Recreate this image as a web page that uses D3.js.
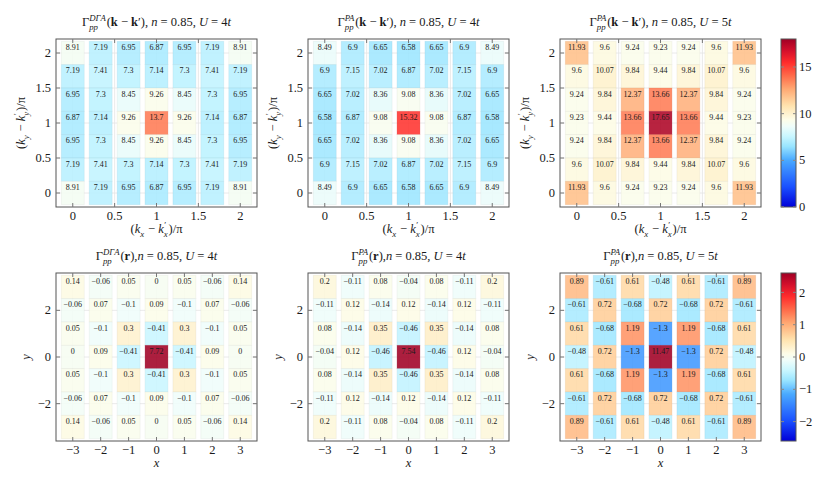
<!DOCTYPE html>
<html>
<head>
<meta charset="utf-8">
<script src="https://d3js.org/d3.v7.min.js"></script>
<style>
  body { margin: 0; background: #fff; }
</style>
</head>
<body>
<script>
// ---- data (rows listed from top of the panel to the bottom) ----
var kPos = [0, 1/3, 2/3, 1, 4/3, 5/3, 2];
var rPos = [-3, -2, -1, 0, 1, 2, 3];
var kTicks = [0, 0.5, 1, 1.5, 2];
var rTicksX = [-3, -2, -1, 0, 1, 2, 3];
var rTicksY = [-2, 0, 2];
var kBarTicks = [0, 5, 10, 15];
var rBarTicks = [-2, -1, 0, 1, 2];

var gammaDGA_k = [
  [8.91, 7.19, 6.95, 6.87, 6.95, 7.19, 8.91],
  [7.19, 7.41, 7.3, 7.14, 7.3, 7.41, 7.19],
  [6.95, 7.3, 8.45, 9.26, 8.45, 7.3, 6.95],
  [6.87, 7.14, 9.26, 13.7, 9.26, 7.14, 6.87],
  [6.95, 7.3, 8.45, 9.26, 8.45, 7.3, 6.95],
  [7.19, 7.41, 7.3, 7.14, 7.3, 7.41, 7.19],
  [8.91, 7.19, 6.95, 6.87, 6.95, 7.19, 8.91]
];
var gammaPA4_k = [
  [8.49, 6.9, 6.65, 6.58, 6.65, 6.9, 8.49],
  [6.9, 7.15, 7.02, 6.87, 7.02, 7.15, 6.9],
  [6.65, 7.02, 8.36, 9.08, 8.36, 7.02, 6.65],
  [6.58, 6.87, 9.08, 15.32, 9.08, 6.87, 6.58],
  [6.65, 7.02, 8.36, 9.08, 8.36, 7.02, 6.65],
  [6.9, 7.15, 7.02, 6.87, 7.02, 7.15, 6.9],
  [8.49, 6.9, 6.65, 6.58, 6.65, 6.9, 8.49]
];
var gammaPA5_k = [
  [11.93, 9.6, 9.24, 9.23, 9.24, 9.6, 11.93],
  [9.6, 10.07, 9.84, 9.44, 9.84, 10.07, 9.6],
  [9.24, 9.84, 12.37, 13.66, 12.37, 9.84, 9.24],
  [9.23, 9.44, 13.66, 17.65, 13.66, 9.44, 9.23],
  [9.24, 9.84, 12.37, 13.66, 12.37, 9.84, 9.24],
  [9.6, 10.07, 9.84, 9.44, 9.84, 10.07, 9.6],
  [11.93, 9.6, 9.24, 9.23, 9.24, 9.6, 11.93]
];
var gammaDGA_r = [
  [0.14, -0.06, 0.05, 0, 0.05, -0.06, 0.14],
  [-0.06, 0.07, -0.1, 0.09, -0.1, 0.07, -0.06],
  [0.05, -0.1, 0.3, -0.41, 0.3, -0.1, 0.05],
  [0, 0.09, -0.41, 7.72, -0.41, 0.09, 0],
  [0.05, -0.1, 0.3, -0.41, 0.3, -0.1, 0.05],
  [-0.06, 0.07, -0.1, 0.09, -0.1, 0.07, -0.06],
  [0.14, -0.06, 0.05, 0, 0.05, -0.06, 0.14]
];
var gammaPA4_r = [
  [0.2, -0.11, 0.08, -0.04, 0.08, -0.11, 0.2],
  [-0.11, 0.12, -0.14, 0.12, -0.14, 0.12, -0.11],
  [0.08, -0.14, 0.35, -0.46, 0.35, -0.14, 0.08],
  [-0.04, 0.12, -0.46, 7.54, -0.46, 0.12, -0.04],
  [0.08, -0.14, 0.35, -0.46, 0.35, -0.14, 0.08],
  [-0.11, 0.12, -0.14, 0.12, -0.14, 0.12, -0.11],
  [0.2, -0.11, 0.08, -0.04, 0.08, -0.11, 0.2]
];
var gammaPA5_r = [
  [0.89, -0.61, 0.61, -0.48, 0.61, -0.61, 0.89],
  [-0.61, 0.72, -0.68, 0.72, -0.68, 0.72, -0.61],
  [0.61, -0.68, 1.19, -1.3, 1.19, -0.68, 0.61],
  [-0.48, 0.72, -1.3, 11.47, -1.3, 0.72, -0.48],
  [0.61, -0.68, 1.19, -1.3, 1.19, -0.68, 0.61],
  [-0.61, 0.72, -0.68, 0.72, -0.68, 0.72, -0.61],
  [0.89, -0.61, 0.61, -0.48, 0.61, -0.61, 0.89]
];

// colormap (blue - white - red)
var cmapStops = [0, 0.12, 0.28, 0.36, 0.42, 0.48, 0.52, 0.6, 0.7, 0.78, 0.86, 0.93, 1];
var cmapColors = ["#0000d8", "#1a50ff", "#4aaaff", "#98e4ff", "#c8f6ff", "#effdfa", "#fdfde8",
                  "#ffe4b0", "#ffaa74", "#ff6c4a", "#ff2c2c", "#d4102c", "#a00024"];
var cmap = d3.scaleLinear().domain(cmapStops).range(cmapColors).clamp(true);

var W = 830, H = 481;
var boxW = 201, boxH = 168;
var lefts = [56, 308, 560];
var tops = [39, 273];
var serif = '"Liberation Serif", "DejaVu Serif", "Times New Roman", serif';

var svg = d3.select("body").append("svg")
  .attr("width", W).attr("height", H)
  .style("font-family", serif);

function fmt(v) { return v < 0 ? "\u2212" + Math.abs(v) : String(v); }

function txt(parent) {
  return parent.append("text").style("font-family", serif).attr("fill", "#1a1a1a");
}

// rich text: sequence of segments, scripts stacked
function rich(parent, segs, size) {
  var g = parent.append("g");
  var x = 0;
  segs.forEach(function(s) {
    if (s.sub !== undefined || s.sup !== undefined) {
      var w = 0;
      if (s.sup) {
        var t = txt(g).attr("x", x).attr("y", -size * 0.4)
          .style("font-size", (size * 0.7) + "px").style("font-style", "italic").text(s.sup);
        w = Math.max(w, t.node().getComputedTextLength());
      }
      if (s.sub) {
        var t2 = txt(g).attr("x", x).attr("y", size * 0.28)
          .style("font-size", (size * 0.7) + "px").style("font-style", "italic").text(s.sub);
        w = Math.max(w, t2.node().getComputedTextLength());
      }
      x += w + 0.8;
    } else {
      var t3 = txt(g).attr("x", x).attr("y", 0)
        .style("font-size", size + "px")
        .style("font-style", s.i ? "italic" : "normal")
        .style("font-weight", s.b ? "bold" : "normal")
        .text(s.t.replace(/ /g, "\u00a0"));
      x += t3.node().getComputedTextLength();
    }
  });
  return { g: g, w: x };
}

function titleK(sup, u) {
  return [{t: "Γ"}, {sub: "pp", sup: sup}, {t: "("}, {t: "k", b: true}, {t: " − "},
          {t: "k", b: true}, {t: "′), "}, {t: "n", i: true}, {t: " = 0.85, "},
          {t: "U", i: true}, {t: " = " + u}, {t: "t", i: true}];
}
function titleR(sup, u) {
  return [{t: "Γ"}, {sub: "pp", sup: sup}, {t: "("}, {t: "r", b: true}, {t: "),"},
          {t: "n", i: true}, {t: " = 0.85, "}, {t: "U", i: true}, {t: " = " + u}, {t: "t", i: true}];
}
var xLabK = [{t: "("}, {t: "k", i: true}, {sub: "x"}, {t: " − "}, {t: "k", i: true}, {sub: "x", sup: "′"}, {t: ")/π"}];
var yLabK = [{t: "("}, {t: "k", i: true}, {sub: "y"}, {t: " − "}, {t: "k", i: true}, {sub: "y", sup: "′"}, {t: ")/π"}];

function drawPanel(p) {
  var left = p.left, top = p.top;
  var x = d3.scaleLinear().domain(p.xdom).range([left, left + boxW]);
  var y = d3.scaleLinear().domain(p.ydom).range([top + boxH, top]);
  var color = function(v) { return cmap((v - p.cdom[0]) / (p.cdom[1] - p.cdom[0])); };
  var g = svg.append("g");

  // grid
  g.selectAll(".gx").data(p.xticks).enter().append("line")
    .attr("x1", d => x(d)).attr("x2", d => x(d)).attr("y1", top).attr("y2", top + boxH)
    .attr("stroke", "#e4e4e4").attr("stroke-width", 0.8);
  g.selectAll(".gy").data(p.yticks).enter().append("line")
    .attr("y1", d => y(d)).attr("y2", d => y(d)).attr("x1", left).attr("x2", left + boxW)
    .attr("stroke", "#e4e4e4").attr("stroke-width", 0.8);

  // cells
  var step = p.pos[1] - p.pos[0];
  var cw = (x(step) - x(0)) * 0.82;
  var ch = y(0) - y(step);
  var cells = [];
  p.data.forEach(function(row, i) {
    row.forEach(function(v, j) {
      cells.push({ x: p.pos[j], y: p.pos[p.pos.length - 1 - i], v: v });
    });
  });
  g.selectAll(".cell").data(cells).enter().append("rect")
    .attr("x", d => x(d.x) - cw / 2).attr("y", d => y(d.y) - ch / 2)
    .attr("width", cw).attr("height", ch)
    .attr("fill", d => color(d.v)).attr("fill-opacity", 0.88)
    .attr("stroke", d => d3.color(color(d.v)).darker(0.4)).attr("stroke-opacity", 0.3)
    .attr("stroke-width", 0.8);
  cells.forEach(function(d) {
    txt(g).attr("x", x(d.x)).attr("y", y(d.y) - ch / 2 + 8.5)
      .attr("text-anchor", "middle").style("font-size", "8px")
      .text(fmt(d.v));
  });

  // frame and ticks
  g.append("rect").attr("x", left).attr("y", top).attr("width", boxW).attr("height", boxH)
    .attr("fill", "none").attr("stroke", "#555").attr("stroke-width", 1);
  p.xticks.forEach(function(t) {
    g.append("line").attr("x1", x(t)).attr("x2", x(t)).attr("y1", top + boxH).attr("y2", top + boxH - 4).attr("stroke", "#777");
    g.append("line").attr("x1", x(t)).attr("x2", x(t)).attr("y1", top).attr("y2", top + 4).attr("stroke", "#777");
    txt(g).attr("x", x(t)).attr("y", top + boxH + 12.5).attr("text-anchor", "middle")
      .style("font-size", "12.5px").text(fmt(t));
  });
  p.yticks.forEach(function(t) {
    g.append("line").attr("y1", y(t)).attr("y2", y(t)).attr("x1", left).attr("x2", left + 4).attr("stroke", "#777");
    g.append("line").attr("y1", y(t)).attr("y2", y(t)).attr("x1", left + boxW).attr("x2", left + boxW - 4).attr("stroke", "#777");
    txt(g).attr("x", left - 5).attr("y", y(t)).attr("dy", "0.33em").attr("text-anchor", "end")
      .style("font-size", "12.5px").text(fmt(t));
  });

  // title
  var tt = rich(g, p.title, 12.5);
  tt.g.attr("transform", "translate(" + (left + boxW / 2 - tt.w / 2) + "," + (top - 13) + ")");
  // x label
  var xl = rich(g, p.xlabel, 12.5);
  xl.g.attr("transform", "translate(" + (left + boxW / 2 - xl.w / 2) + "," + (top + boxH + 26) + ")");
  // y label
  var yg = g.append("g").attr("transform", "translate(" + (left - p.yoff) + "," + (top + boxH / 2) + ") rotate(-90)");
  var yl = rich(yg, p.ylabel, 12.5);
  yl.g.attr("transform", "translate(" + (-yl.w / 2) + ",0)");
}

function drawBar(top, cdom, ticks, id) {
  var x0 = 781, bw = 15;
  var grad = svg.append("defs").append("linearGradient").attr("id", id)
    .attr("x1", 0).attr("y1", 1).attr("x2", 0).attr("y2", 0);
  grad.selectAll("stop").data(cmapStops).enter().append("stop")
    .attr("offset", d => d).attr("stop-color", (d, i) => cmapColors[i]);
  svg.append("rect").attr("x", x0).attr("y", top).attr("width", bw).attr("height", boxH)
    .attr("fill", "url(#" + id + ")").attr("stroke", "#555").attr("stroke-width", 1);
  var y = d3.scaleLinear().domain(cdom).range([top + boxH, top]);
  ticks.forEach(function(t) {
    svg.append("line").attr("x1", x0).attr("x2", x0 + 3).attr("y1", y(t)).attr("y2", y(t)).attr("stroke", "#888");
    svg.append("line").attr("x1", x0 + bw).attr("x2", x0 + bw - 3).attr("y1", y(t)).attr("y2", y(t)).attr("stroke", "#888");
    txt(svg).attr("x", x0 + bw + 3).attr("y", y(t)).attr("dy", "0.33em")
      .style("font-size", "12.5px").text(fmt(t));
  });
}

var kDom = [0, 18], rDom = [-2.6, 2.6];
var topData = [gammaDGA_k, gammaPA4_k, gammaPA5_k];
var botData = [gammaDGA_r, gammaPA4_r, gammaPA5_r];
var topTitles = [titleK("DΓA", 4), titleK("PA", 4), titleK("PA", 5)];
var botTitles = [titleR("DΓA", 4), titleR("PA", 4), titleR("PA", 5)];

for (var i = 0; i < 3; i++) {
  drawPanel({ left: lefts[i], top: tops[0], data: topData[i], pos: kPos,
    xdom: [-0.2, 2.2], ydom: [-0.2, 2.2], xticks: kTicks, yticks: kTicks, cdom: kDom,
    title: topTitles[i], xlabel: xLabK, ylabel: yLabK, yoff: 31 });
  drawPanel({ left: lefts[i], top: tops[1], data: botData[i], pos: rPos,
    xdom: [-3.6, 3.6], ydom: [-3.6, 3.6], xticks: rTicksX, yticks: rTicksY, cdom: rDom,
    title: botTitles[i], xlabel: [{t: "x", i: true}], ylabel: [{t: "y", i: true}], yoff: 26 });
}
drawBar(tops[0], kDom, kBarTicks, "gradK");
drawBar(tops[1], rDom, rBarTicks, "gradR");
</script>
</body>
</html>
